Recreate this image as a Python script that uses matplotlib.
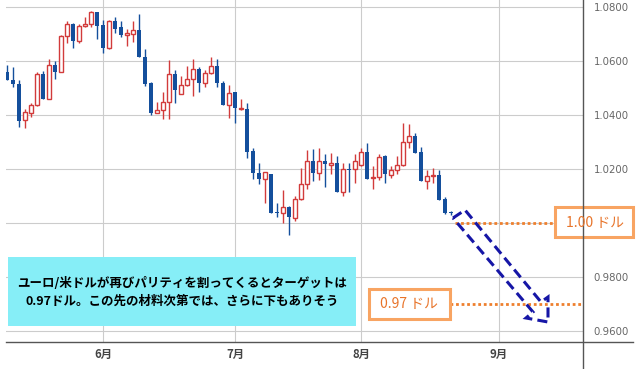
import numpy as np
import matplotlib
matplotlib.use("Agg")
import matplotlib.pyplot as plt
from matplotlib.patches import Rectangle, Polygon
from matplotlib.lines import Line2D
from matplotlib.transforms import Affine2D

plt.rcParams['font.family'] = ['Noto Sans CJK JP', 'DejaVu Sans']

# daily EUR/USD candles (trading days, weekends skipped)
opens = [1.0560, 1.0530, 1.0514, 1.0382, 1.0406, 1.0436, 1.0552, 1.0460, 1.0584, 1.0558,
         1.0693, 1.0737, 1.0675, 1.0729, 1.0737, 1.0782, 1.0733, 1.0649, 1.0747, 1.0725,
         1.0695, 1.0701, 1.0715, 1.0616, 1.0519, 1.0409, 1.0417, 1.0447, 1.0551, 1.0477,
         1.0510, 1.0534, 1.0569, 1.0520, 1.0554, 1.0580, 1.0520, 1.0438, 1.0485, 1.0423,
         1.0422, 1.0267, 1.0184, 1.0162, 1.0183, 1.0038, 1.0036, 1.0059, 1.0017, 1.0088,
         1.0143, 1.0229, 1.0184, 1.0229, 1.0215, 1.0223, 1.0116, 1.0199, 1.0199, 1.0214,
         1.0262, 1.0167, 1.0169, 1.0248, 1.0177, 1.0195, 1.0214, 1.0299, 1.0322, 1.0263,
         1.0157, 1.0173, 1.0177, 1.0088, 1.0040]
highs = [1.0585, 1.0577, 1.0530, 1.0422, 1.0443, 1.0559, 1.0563, 1.0606, 1.0600, 1.0697,
         1.0747, 1.0740, 1.0737, 1.0764, 1.0785, 1.0782, 1.0752, 1.0752, 1.0764, 1.0749,
         1.0717, 1.0747, 1.0774, 1.0646, 1.0523, 1.0449, 1.0485, 1.0604, 1.0567, 1.0546,
         1.0580, 1.0607, 1.0579, 1.0567, 1.0614, 1.0606, 1.0526, 1.0511, 1.0485, 1.0460,
         1.0446, 1.0278, 1.0221, 1.0190, 1.0183, 1.0073, 1.0122, 1.0063, 1.0099, 1.0203,
         1.0270, 1.0274, 1.0278, 1.0257, 1.0260, 1.0249, 1.0222, 1.0221, 1.0256, 1.0278,
         1.0295, 1.0211, 1.0254, 1.0252, 1.0211, 1.0248, 1.0369, 1.0366, 1.0332, 1.0281,
         1.0196, 1.0203, 1.0196, 1.0095, 1.0044]
lows = [1.0530, 1.0505, 1.0357, 1.0353, 1.0392, 1.0433, 1.0460, 1.0460, 1.0534, 1.0558,
        1.0666, 1.0647, 1.0666, 1.0727, 1.0727, 1.0680, 1.0629, 1.0646, 1.0703, 1.0688,
        1.0654, 1.0672, 1.0614, 1.0509, 1.0400, 1.0406, 1.0384, 1.0384, 1.0443, 1.0477,
        1.0507, 1.0472, 1.0485, 1.0503, 1.0552, 1.0503, 1.0437, 1.0388, 1.0369, 1.0418,
        1.0240, 1.0163, 1.0144, 1.0075, 1.0038, 1.0023, 1.0001, 0.9956, 1.0009, 1.0085,
        1.0125, 1.0157, 1.0158, 1.0134, 1.0182, 1.0116, 1.0101, 1.0116, 1.0149, 1.0211,
        1.0164, 1.0127, 1.0159, 1.0147, 1.0166, 1.0182, 1.0210, 1.0279, 1.0258, 1.0154,
        1.0127, 1.0147, 1.0085, 1.0033, 1.0030]
closes = [1.0530, 1.0514, 1.0379, 1.0410, 1.0436, 1.0552, 1.0460, 1.0584, 1.0559, 1.0693,
          1.0737, 1.0675, 1.0730, 1.0737, 1.0782, 1.0731, 1.0649, 1.0748, 1.0717, 1.0695,
          1.0704, 1.0714, 1.0616, 1.0516, 1.0409, 1.0417, 1.0448, 1.0551, 1.0493, 1.0510,
          1.0534, 1.0569, 1.0520, 1.0554, 1.0580, 1.0520, 1.0438, 1.0483, 1.0427, 1.0427,
          1.0264, 1.0184, 1.0162, 1.0188, 1.0038, 1.0036, 1.0058, 1.0021, 1.0088, 1.0143,
          1.0229, 1.0184, 1.0229, 1.0217, 1.0223, 1.0116, 1.0199, 1.0196, 1.0229, 1.0262,
          1.0164, 1.0169, 1.0246, 1.0182, 1.0195, 1.0214, 1.0299, 1.0322, 1.0260, 1.0155,
          1.0174, 1.0175, 1.0085, 1.0038, 1.0036]

month_pos = [16, 38, 59, 82]
month_labels = ['6月', '7月', '8月', '9月']
price_ticks = [0.96, 0.98, 1.00, 1.02, 1.04, 1.06, 1.08]

target_1 = 1.00
target_2 = 0.97
note = "ユーロ/米ドルが再びパリティを割ってくるとターゲットは\n0.97ドル。この先の材料次第では、さらに下もありそう"

W, H = 640, 369
fig = plt.figure(figsize=(W / 100, H / 100), dpi=100)
ax = fig.add_axes([6 / W, (H - 342) / H, (583 - 6) / W, 342 / H])

# pixel coordinates of the figure (origin top left)
pix = Affine2D().scale(1 / W, -1 / H).translate(0, 1) + fig.transFigure

o = np.array(opens)
h = np.array(highs)
l = np.array(lows)
c = np.array(closes)
x = np.arange(len(o))
up = c >= o

blue = '#144f9c'
red = '#d23b3b'

ax.vlines(x[up], l[up], h[up], color=red, lw=1, zorder=2)
ax.vlines(x[~up], l[~up], h[~up], color=blue, lw=1, zorder=2)
body = np.maximum(np.abs(c - o), 0.0003)
bottom = np.minimum(o, c)
ax.bar(x[up], body[up], bottom=bottom[up], width=0.68, facecolor='white',
       edgecolor=red, linewidth=1, zorder=3)
ax.bar(x[~up], body[~up], bottom=bottom[~up], width=0.8, color=blue,
       linewidth=0, zorder=3)

ax.set_xlim(-0.17, 96)
ax.set_ylim(0.95593, 1.0826)

# the 1.0000 label sits under the 1.00 ドル box, so it is left empty
ax.set_yticks(price_ticks)
ax.set_yticklabels(['' if p == target_1 else '%.4f' % p for p in price_ticks],
                   family='DejaVu Sans', fontsize=7.3, color='#666666')
ax.yaxis.tick_right()
ax.set_xticks(month_pos)
ax.set_xticklabels(month_labels, fontsize=8.2, color='#444444', fontweight='bold')
ax.tick_params(axis='both', length=0)
ax.tick_params(axis='y', pad=7.5)
ax.tick_params(axis='x', pad=4.5)
ax.grid(True, color='#cccccc', lw=0.8)
ax.set_axisbelow(True)
for s in ax.spines.values():
    s.set_visible(False)

# axis lines of the price scale
fig.add_artist(Line2D([6, 633], [342, 342], color='#555555', lw=1, transform=pix))
fig.add_artist(Line2D([583, 583], [0, 369], color='#555555', lw=1, transform=pix))

# target levels
orange_line = '#ee7f2d'
ax.plot([74.7, 91.3], [target_1, target_1], color=orange_line, lw=2,
        linestyle=(0, (1, 1)), zorder=4)
ax.plot([73.8, 96], [target_2, target_2], color=orange_line, lw=2,
        linestyle=(0, (1, 1)), zorder=4)

box_edge = '#f8a462'
box_text = '#e8742a'
fig.add_artist(Rectangle((555, 207), 78, 30, transform=pix, facecolor='white',
                         edgecolor=box_edge, lw=2.2))
fig.text(595, 222.5, '1.00 ドル', transform=pix, ha='center', va='center',
         fontsize=10, color=box_text)
fig.add_artist(Rectangle((368.5, 288.5), 81.5, 30.5, transform=pix, facecolor='white',
                         edgecolor=box_edge, lw=2.2))
fig.text(409, 304, '0.97 ドル', transform=pix, ha='center', va='center',
         fontsize=10, color=box_text)

# dashed arrow pointing down
arrow = [(453, 218), (465, 210), (541, 302), (548, 297), (548, 322),
         (526, 318), (533, 312)]
fig.add_artist(Polygon(arrow, closed=True, transform=pix, fill=False,
                       edgecolor='#1616a6', lw=2.2, linestyle=(0, (3.3, 1.7)),
                       joinstyle='miter'))

# comment box
fig.add_artist(Rectangle((8, 257), 348, 69, transform=pix, facecolor='#86eef7',
                         edgecolor='none'))
fig.text(182, 292.5, note, transform=pix, ha='center', va='center', fontsize=9,
         color='black', fontweight='bold', linespacing=1.45)

fig.savefig('out.png', dpi=100)
